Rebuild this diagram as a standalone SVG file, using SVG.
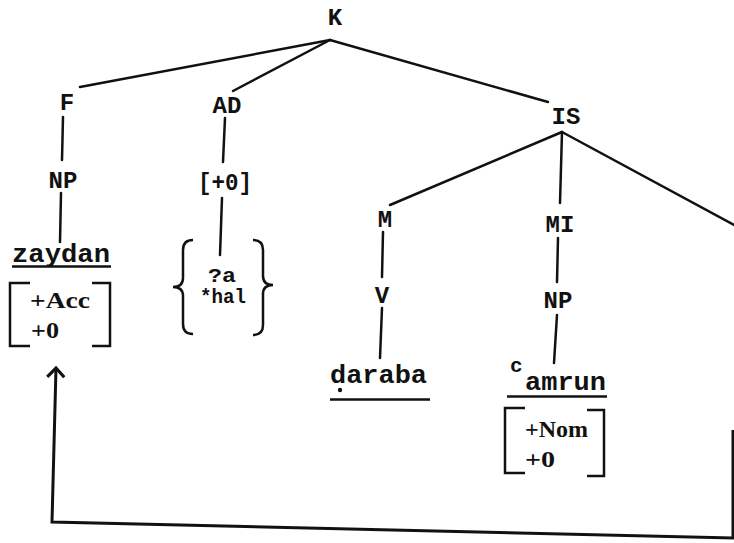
<svg xmlns="http://www.w3.org/2000/svg" width="734" height="543" viewBox="0 0 734 543">
<style>
.lbl{font-family:"Liberation Mono","DejaVu Sans Mono",monospace;font-weight:bold;font-size:24px;fill:#111;text-anchor:middle}
.word{font-family:"Liberation Mono","DejaVu Sans Mono",monospace;font-weight:bold;font-size:26px;fill:#111}
.small{font-family:"Liberation Mono","DejaVu Sans Mono",monospace;font-weight:bold;font-size:21px;fill:#111}
.feat{font-family:"Liberation Serif","DejaVu Serif",serif;font-weight:bold;font-size:24px;fill:#111}
.ln{stroke:#111;stroke-width:2.5;fill:none;stroke-linecap:round}
.br{stroke:#111;stroke-width:2.5;fill:none}
</style>
<defs>
<marker id="chev" markerWidth="14" markerHeight="20" refX="11" refY="10" orient="auto" markerUnits="userSpaceOnUse" viewBox="0 0 14 20">
<path d="M2,1.5 L11,10 L2,18.5" stroke="#111" stroke-width="3.2" fill="none"/>
</marker>
</defs>
<g id="connectors">
<line class="ln" x1="330" y1="40" x2="80" y2="87"/>
<line class="ln" x1="330" y1="40" x2="233" y2="91"/>
<line class="ln" x1="330" y1="40" x2="548" y2="102"/>
<line class="ln" x1="63" y1="117" x2="62" y2="160"/>
<line class="ln" x1="61" y1="193" x2="60" y2="242"/>
<line class="ln" x1="225" y1="118" x2="223" y2="162"/>
<line class="ln" x1="222" y1="198" x2="220" y2="255"/>
<line class="ln" x1="562" y1="132" x2="390" y2="205"/>
<line class="ln" x1="562" y1="132" x2="560" y2="203"/>
<line class="ln" x1="562" y1="132" x2="734" y2="225"/>
<line class="ln" x1="383" y1="232" x2="382" y2="277"/>
<line class="ln" x1="382" y1="308" x2="380" y2="358"/>
<line class="ln" x1="558" y1="238" x2="557" y2="282"/>
<line class="ln" x1="557" y1="315" x2="554" y2="363"/>
<path d="M733,430 L733,538 L52,522 L56,368" stroke="#111" stroke-width="3" fill="none" marker-end="url(#chev)"/>
</g>
<g id="node-K"><text class="lbl" x="335" y="25">K</text></g>
<g id="node-F"><text class="lbl" x="67" y="110">F</text></g>
<g id="node-NP1"><text class="lbl" x="63" y="188">NP</text></g>
<g id="node-zaydan">
<text class="word" x="12" y="262" textLength="98" lengthAdjust="spacingAndGlyphs">zaydan</text>
<line class="br" x1="12" y1="266.5" x2="111" y2="266.5"/>
<path class="br" d="M30,283 L10,283 L10,346 L30,346"/>
<path class="br" d="M92,283 L110,283 L110,346 L92,346"/>
<text class="feat" x="30" y="308" textLength="60" lengthAdjust="spacingAndGlyphs">+Acc</text>
<text class="feat" x="31" y="338" textLength="28" lengthAdjust="spacingAndGlyphs">+0</text>
</g>
<g id="node-AD"><text class="lbl" x="227" y="113">AD</text></g>
<g id="node-O"><text class="lbl" x="225" y="190" textLength="54" lengthAdjust="spacingAndGlyphs">[+0]</text></g>
<g id="node-brace">
<path class="br" d="M193,240 Q183,240 183,250 L183,278 Q183,287 173,287 Q183,287 183,296 L183,324 Q183,334 193,334"/>
<path class="br" d="M253,240 Q263,240 263,250 L263,276 Q263,285 273,285 Q263,285 263,294 L263,325 Q263,335 253,335"/>
<text class="small" x="208" y="282" textLength="28" lengthAdjust="spacingAndGlyphs">?a</text>
<text class="small" x="200" y="303" textLength="46" lengthAdjust="spacingAndGlyphs">*hal</text>
</g>
<g id="node-IS"><text class="lbl" x="566" y="124">IS</text></g>
<g id="node-M"><text class="lbl" x="385" y="227">M</text></g>
<g id="node-V"><text class="lbl" x="382" y="303">V</text></g>
<g id="node-daraba">
<text class="word" x="330" y="383" textLength="97" lengthAdjust="spacingAndGlyphs">daraba</text>
<circle cx="340" cy="390" r="2.2" fill="#111"/>
<line class="br" x1="330" y1="399.5" x2="430" y2="399.5"/>
</g>
<g id="node-MI"><text class="lbl" x="560" y="232">MI</text></g>
<g id="node-NP2"><text class="lbl" x="558" y="308">NP</text></g>
<g id="node-camrun">
<text class="small" x="510" y="372">c</text>
<text class="word" x="525" y="390" textLength="81" lengthAdjust="spacingAndGlyphs">amrun</text>
<line class="br" x1="507" y1="396.5" x2="607" y2="396.5"/>
<path class="br" d="M525,408 L505,408 L505,473 L525,473"/>
<path class="br" d="M587,410 L604,410 L604,476 L587,476"/>
<text class="feat" x="525" y="437" textLength="63" lengthAdjust="spacingAndGlyphs">+Nom</text>
<text class="feat" x="525" y="467" textLength="30" lengthAdjust="spacingAndGlyphs">+0</text>
</g>
</svg>
